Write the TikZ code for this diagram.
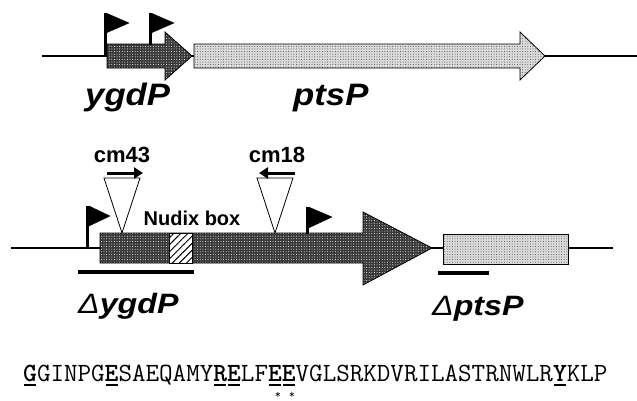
\documentclass[tikz,border=0pt]{standalone}
\usepackage{fontspec}
\setmainfont{Liberation Sans}
\newfontface\seqbf{lmmonolt10-bold.otf}
\usetikzlibrary{patterns.meta,arrows.meta}
% bold, underlined residue in the sequence line
\newcommand\resb[1]{\makebox[0pt][l]{\hspace{1pt}\rule[-5pt]{11.8pt}{2pt}}{\seqbf #1}}
\tikzset{
  dna/.style={line width=1.6pt},
  geneA/.style={preaction={fill=black!78},
                preaction={pattern={Dots[radius=0.5pt,distance=2.6pt]}, pattern color=white},
                draw=black, line width=0.8pt},
  geneB/.style={preaction={fill=black!14},
                preaction={pattern={Dots[radius=0.5pt,distance=2.6pt]}, pattern color=black!70},
                draw=black, line width=0.8pt},
  nudix/.style={preaction={fill=white},
                preaction={pattern={Lines[angle=45,distance=5pt,line width=1pt]}},
                draw=black, line width=0.8pt},
  flag/.style={fill=black, draw=black, line width=0.4pt},
  stem/.style={line width=3pt},
  ins/.style={draw=black, line width=0.8pt, fill=white},
  primer/.style={line width=3pt, -{Triangle[width=11pt,length=9pt]}},
  delbar/.style={line width=4pt},
  genelabel/.style={inner sep=0pt, font=\fontsize{31}{31}\selectfont\bfseries\itshape},
  dellabel/.style={inner sep=0pt, font=\fontsize{28}{28}\selectfont\bfseries\itshape},
  tag/.style={inner sep=0pt, font=\fontsize{22}{22}\selectfont\bfseries},
  seqtext/.style={inner sep=0pt, font=\ttfamily\fontsize{26.3}{26.3}\selectfont},
  starmark/.style={inner sep=0pt, font=\ttfamily\fontsize{12}{12}\selectfont},
}
\begin{document}
\begin{tikzpicture}[x=1pt,y=-1pt]
\useasboundingbox (0,0) rectangle (637,400);

% ---------- wild-type locus ----------
\coordinate (wL) at (42,56);
\coordinate (wR) at (637,56);
\draw[dna] (wL) -- (wR);
\draw[geneA] (107,44) -- (165,44) -- (165,32) -- (192,56) -- (165,80) -- (165,68) -- (107,68) -- cycle;
\draw[geneB] (194,44) -- (520,44) -- (520,32) -- (545,56) -- (520,80) -- (520,68) -- (194,68) -- cycle;
% promoters
\draw[stem] (105,57) -- (105,13);
\fill[flag] (106,13) -- (129,23) -- (106,33) -- cycle;
\draw[stem] (150,45) -- (150,13);
\fill[flag] (151,13) -- (174,23) -- (151,33) -- cycle;
\node[genelabel, anchor=base west] (lygdP) at (85,105) {\scalebox{1.12}[1]{ygdP}};
\node[genelabel, anchor=base west] (lptsP) at (293,105) {\scalebox{1.12}[1]{ptsP}};

% ---------- mutant locus ----------
\coordinate (mL) at (11,248);
\coordinate (mR) at (613,248);
\draw[dna] (mL) -- (mR);
\draw[geneA] (100,233) -- (363,233) -- (363,212) -- (432,248) -- (363,285) -- (363,263) -- (100,263) -- cycle;
\draw[nudix] (169,233) rectangle (192,263);
\draw[geneB] (443,234) rectangle (568,264);
% promoters
\draw[stem] (87.5,249) -- (87.5,206);
\fill[flag] (89,206) -- (110,216) -- (89,226) -- cycle;
\draw[stem] (307,234) -- (307,207);
\fill[flag] (308.5,207) -- (332,217) -- (308.5,228) -- cycle;
% cassette insertions
\draw[ins] (104,178) -- (140,178) -- (122,233) -- cycle;
\draw[ins] (257,178) -- (293,178) -- (275,233) -- cycle;
\coordinate (p43a) at (107,173);
\coordinate (p43b) at (143,173);
\coordinate (p18a) at (295,173);
\coordinate (p18b) at (259,173);
\draw[primer] (p43a) -- (p43b);
\draw[primer] (p18a) -- (p18b);
\node[tag] (cm43) at (122,155) {cm43};
\node[tag] (cm18) at (277,155) {cm18};
\node[inner sep=0pt, font=\fontsize{20}{20}\selectfont\bfseries, anchor=base] (nbox) at (192,225) {Nudix box};
% deleted segments
\coordinate (dA1) at (78,272);
\coordinate (dA2) at (194,272);
\coordinate (dB1) at (438,273);
\coordinate (dB2) at (489,273);
\draw[delbar] (dA1) -- (dA2);
\draw[delbar] (dB1) -- (dB2);
\node[dellabel, anchor=base west] (ldA) at (78,313) {\scalebox{1.15}[1]{{\mdseries\itshape Δ}ygdP}};
\node[dellabel, anchor=base west] (ldB) at (432,315) {\scalebox{1.15}[1]{{\mdseries\itshape Δ}ptsP}};

% ---------- Nudix motif sequence ----------
\node[seqtext, anchor=base west] (seq) at (23,381)
  {\resb{G}GINPG\resb{E}SAEQAMY\resb{R}\resb{E}LF\resb{E}\resb{E}VGLSRKDVRILASTRNWLR\resb{Y}KLP};
\node[starmark] (astA) at (278,395) {*};
\node[starmark] (astB) at (292,395) {*};
\end{tikzpicture}
\end{document}
